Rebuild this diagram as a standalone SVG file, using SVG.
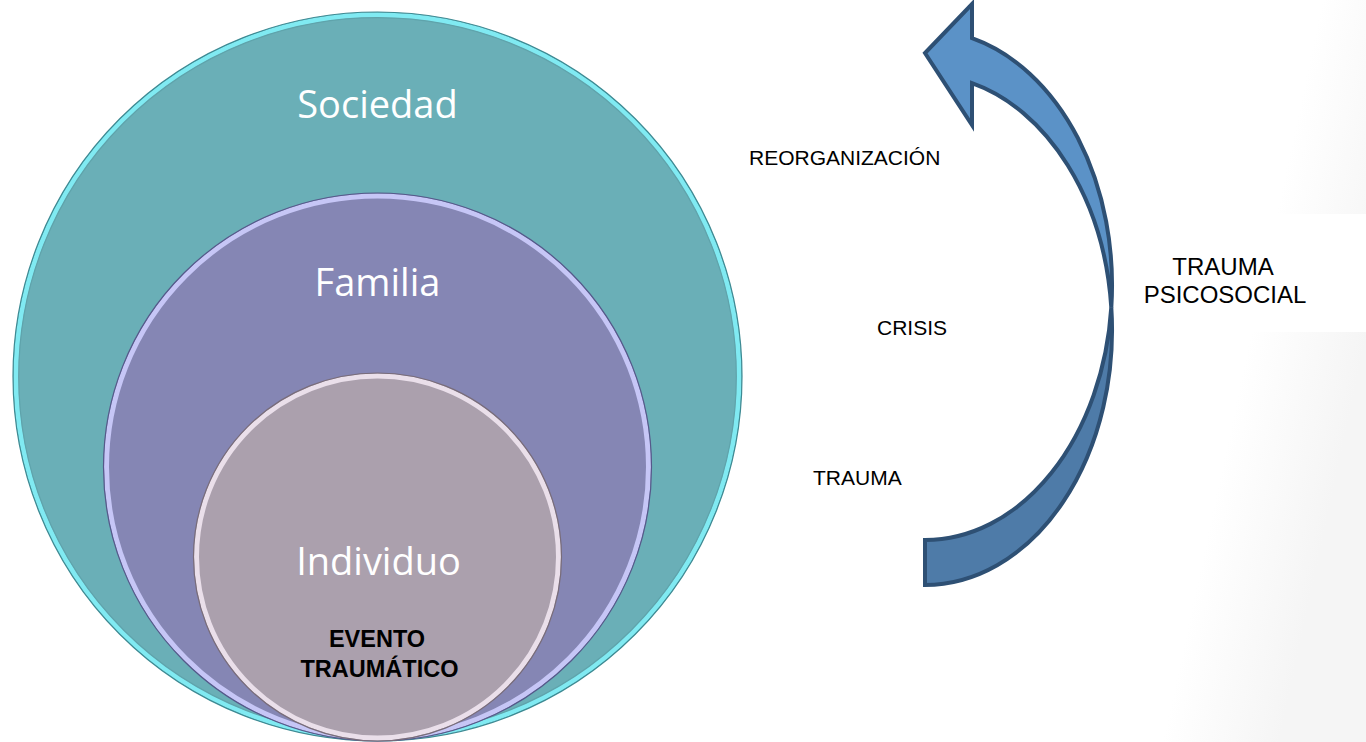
<svg xmlns="http://www.w3.org/2000/svg" width="1366" height="742" viewBox="0 0 1366 742">
  <defs>
    <linearGradient id="bg" gradientUnits="userSpaceOnUse" x1="1180" y1="300" x2="1366" y2="340">
      <stop offset="0" stop-color="#ffffff"/>
      <stop offset="0.4" stop-color="#ffffff"/>
      <stop offset="1" stop-color="#f5f5f5"/>
    </linearGradient>
    <style>
      .lbl { font-family: "Open Sans", "Noto Sans", sans-serif; font-size: 38px; fill: #ffffff; text-anchor: middle; }
      .txt { font-family: "Liberation Sans", Arial, sans-serif; font-size: 21px; fill: #000000; }
      .big { font-size: 24px; text-anchor: middle; }
      .bold { font-family: "Liberation Sans", Arial, sans-serif; font-size: 23.5px; font-weight: bold; fill: #000000; text-anchor: middle; }
      .edge { fill: none; stroke-width: 1.2; }
      .ring { fill: none; stroke-width: 5; }
      .arrow { stroke: #2e5074; stroke-width: 4; stroke-linejoin: miter; }
    </style>
  </defs>

  <rect x="0" y="0" width="1366" height="742" fill="url(#bg)"/>
  <rect x="1100" y="214" width="266" height="118" fill="#ffffff"/>

  <g id="node-sociedad">
    <circle cx="377.5" cy="376.5" r="364.5" fill="#6aafb7"/>
    <circle class="ring" cx="377.5" cy="376.5" r="361.5" stroke="#80eaf2"/>
    <circle class="edge" cx="377.5" cy="376.5" r="364.5" stroke="#3d8a93"/>
    <circle class="edge" cx="377.5" cy="376.5" r="358.8" stroke="#5fa3ab" stroke-width="0.8"/>
    <text class="lbl" x="377.5" y="118">Sociedad</text>
  </g>

  <g id="node-familia">
    <circle cx="377.5" cy="467" r="274" fill="#8586b4"/>
    <circle class="ring" cx="377.5" cy="467" r="271" stroke="#c6c6f6"/>
    <circle class="edge" cx="377.5" cy="467" r="274" stroke="#55598a"/>
    <text class="lbl" x="377.5" y="296">Familia</text>
  </g>

  <g id="node-individuo">
    <circle cx="377.5" cy="557" r="184" fill="#aba0ad"/>
    <circle class="ring" cx="377.5" cy="557" r="181" stroke="#eadfea"/>
    <circle class="edge" cx="377.5" cy="557" r="184" stroke="#786c7a"/>
    <text class="lbl" x="378.5" y="575">Individuo</text>
    <text class="bold" x="377" y="647">EVENTO</text>
    <text class="bold" x="379.5" y="677">TRAUMÁTICO</text>
  </g>

  <g id="connectors">
    <path class="arrow" fill="#4e7ba8" d="M925,540 A187,255 0 0 0 1111.3,307.5 A187,255 0 0 1 925,585 Z"/>
    <path class="arrow" fill="#5b92c7" d="M1111.3,307.5 A187,255 0 0 0 972,38.2 L972,4 L925,53 L972,125 L972,83.2 A187,255 0 0 1 1111.3,307.5 Z"/>
  </g>

  <g id="labels">
    <text class="txt" x="749" y="165">REORGANIZACIÓN</text>
    <text class="txt" x="877" y="335">CRISIS</text>
    <text class="txt" x="813" y="485">TRAUMA</text>
    <text class="txt big" x="1223" y="275">TRAUMA</text>
    <text class="txt big" x="1225" y="303">PSICOSOCIAL</text>
  </g>
</svg>
